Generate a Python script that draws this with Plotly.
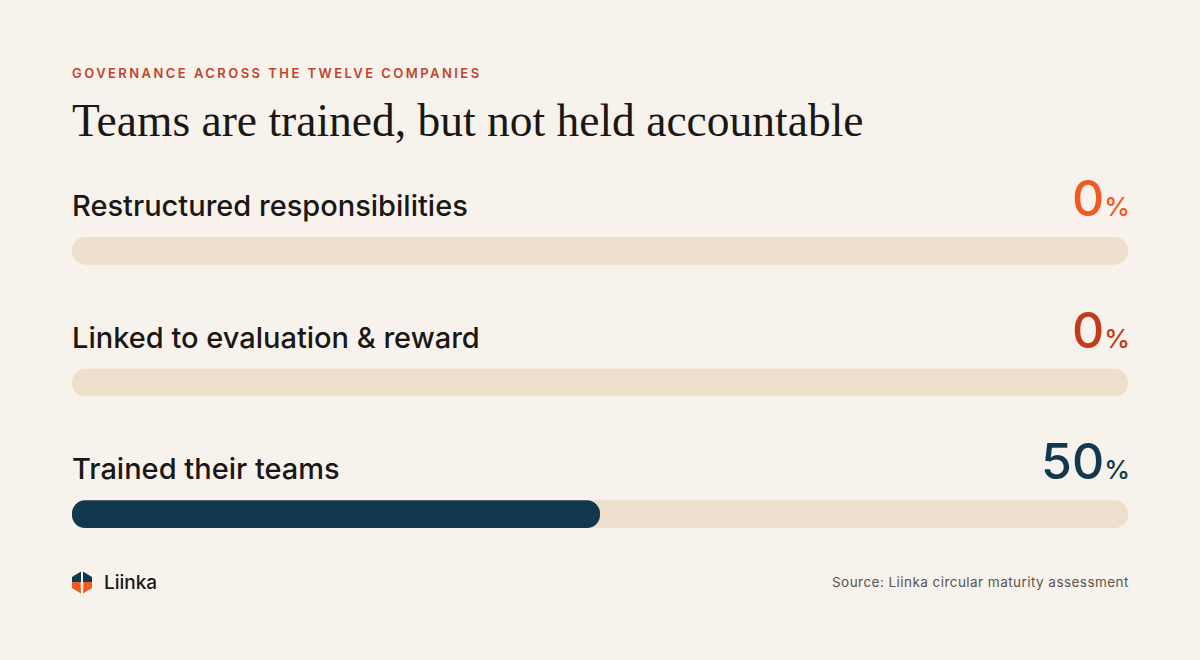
import plotly.graph_objects as go

# data
categories = ["Restructured responsibilities", "Linked to evaluation & reward", "Trained their teams"]
shares = [0, 0, 50]
track_max = [100, 100, 100]
kicker = "GOVERNANCE ACROSS THE TWELVE COMPANIES"
headline = "Teams are trained, but not held accountable"
source_note = "Source: Liinka circular maturity assessment"
brand = "Liinka"

# styling
BG = "#F7F3EC"
TRACK = "#EEDFCC"
INK = "#1B1714"
NAVY = "#12384F"
value_colors = ["#F05A24", "#C33B1D", NAVY]
bar_colors = ["#F05A24", "#C33B1D", NAVY]

W, H = 1200, 660
L, R, T, B = 72, 72, 185, 80
PW, PH = W - L - R, H - T - B


def px(x):
    return (x - L) / PW


def py(y):
    return (H - B - y) / PH


# track and fill sit on separate overlaid axes so plotly rounds both bars
# (an explicit base makes plotly round both ends)
fig = go.Figure()
fig.add_trace(go.Bar(x=track_max, base=[0] * len(track_max), y=categories, orientation="h",
                     width=0.21, marker=dict(color=TRACK, cornerradius=14, line_width=0),
                     hoverinfo="skip", showlegend=False))
fig.add_trace(go.Bar(x=shares, base=[0] * len(shares), y=categories, orientation="h",
                     width=0.21, xaxis="x2", yaxis="y2",
                     marker=dict(color=bar_colors, cornerradius=14, line_width=0),
                     hoverinfo="skip", showlegend=False))

for cat, val, col in zip(categories, shares, value_colors):
    fig.add_annotation(x=0, y=cat, xref="x", yref="y", text=cat, showarrow=False,
                       xanchor="left", yanchor="bottom", yshift=26, xshift=-2,
                       font=dict(family="Inter", size=29, color=INK, weight=500))
    fig.add_annotation(x=100, y=cat, xref="x", yref="y",
                       text=f"{val}<span style='font-size:26px'>%</span>", showarrow=False,
                       xanchor="right", yanchor="bottom", yshift=21, xshift=4,
                       font=dict(family="Inter", size=50, color=col, weight=500))

# header
fig.add_annotation(x=px(70), y=py(73), xref="paper", yref="paper", xanchor="left", yanchor="middle",
                   text=f"<span style='letter-spacing:2.45px'>{kicker}</span>", showarrow=False,
                   font=dict(family="Inter", size=13, color="#C0442C", weight=600))
fig.add_annotation(x=px(70), y=py(120), xref="paper", yref="paper", xanchor="left", yanchor="middle",
                   text=headline, showarrow=False,
                   font=dict(family="Liberation Serif", size=45.5, color=INK))

# footer
fig.add_annotation(x=px(102), y=py(582), xref="paper", yref="paper", xanchor="left", yanchor="middle",
                   text=brand, showarrow=False,
                   font=dict(family="Inter", size=19, color=INK, weight=500))
fig.add_annotation(x=px(1131), y=py(582), xref="paper", yref="paper", xanchor="right", yanchor="middle",
                   text=f"<span style='letter-spacing:0.45px'>{source_note}</span>", showarrow=False,
                   font=dict(family="Inter", size=13.5, color="#5A5450"))


# logo mark
def poly(points):
    return "M " + " L ".join(f"{px(a)},{py(b)}" for a, b in points) + " Z"


fig.add_shape(type="path", xref="paper", yref="paper", line_width=0, fillcolor=NAVY,
              path=poly([(72, 577), (81, 571.5), (81, 582), (72, 582)]))
fig.add_shape(type="path", xref="paper", yref="paper", line_width=0, fillcolor=NAVY,
              path=poly([(83, 571.5), (92, 577), (92, 582), (83, 582)]))
fig.add_shape(type="path", xref="paper", yref="paper", line_width=0, fillcolor="#F05A24",
              path=poly([(72, 582), (80.5, 582), (81, 593.5), (72, 588)]))
fig.add_shape(type="path", xref="paper", yref="paper", line_width=0, fillcolor="#F05A24",
              path=poly([(83.5, 582), (92, 582), (92, 588), (83, 593.5)]))

axis_x = dict(range=[0, 100], visible=False, fixedrange=True)
axis_y = dict(type="category", categoryorder="array", categoryarray=categories,
              range=[2.5, -0.5], visible=False, fixedrange=True)

fig.update_layout(
    width=W, height=H, barmode="overlay",
    margin=dict(l=L, r=R, t=T, b=B),
    paper_bgcolor=BG, plot_bgcolor="rgba(0,0,0,0)",
    showlegend=False,
    xaxis=axis_x, yaxis=axis_y,
    xaxis2=dict(axis_x, overlaying="x"), yaxis2=dict(axis_y, overlaying="y"),
)

fig.write_html("out.html", config={"displayModeBar": False},
               post_script="document.body.style.margin='0';document.body.style.background='" + BG + "';")
